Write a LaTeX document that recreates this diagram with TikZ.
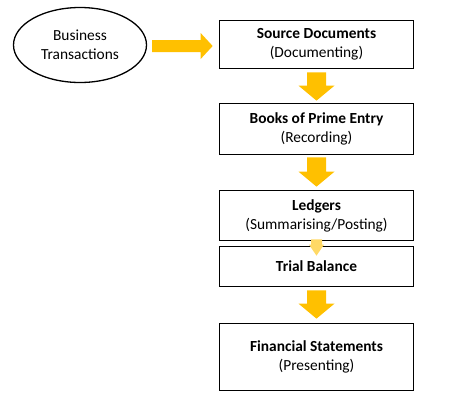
\documentclass[tikz,border=0pt]{standalone}
\usepackage{fontspec}
\setmainfont{Carlito}
\usetikzlibrary{calc,shapes.geometric}
\definecolor{gold}{HTML}{FFC000}
\definecolor{lightgold}{HTML}{FFD966}
\tikzset{
  stagebox/.style={draw=black, line width=1.7pt, minimum width=194pt, align=center,
    font=\fontsize{15.4}{19}\selectfont, inner sep=0pt},
  sourceoval/.style={draw=black, ellipse, line width=1.3pt, minimum width=133pt,
    minimum height=75pt, align=center, font=\fontsize{15.4}{19}\selectfont, inner sep=0pt}
}
% #1 from node, #2 to node, #3 colour, #4 shaft half width, #5 head half width,
% #6 head length, #7 gap below source, #8 gap above target
\newcommand\downflow[8]{%
  \fill[#3] let \p1=($(#1.south)+(0,#7)$), \p2=($(#2.north)+(0,-#8)$) in
    (\x1-#4pt,\y1) -- (\x1+#4pt,\y1) -- (\x1+#4pt,\y2+#6pt) -- (\x1+#5pt,\y2+#6pt)
    -- (\x1,\y2) -- (\x1-#5pt,\y2+#6pt) -- (\x1-#4pt,\y2+#6pt) -- cycle;}
\begin{document}
\begin{tikzpicture}[x=1pt,y=-1pt]
\useasboundingbox (0,0) rectangle (451,400);
\node[sourceoval] (bt) at (80,45) {Business\\Transactions};
\node[stagebox, minimum height=48pt] (sd) at (316.5,44.5) {\textbf{Source Documents}\\(Documenting)};
\node[stagebox, minimum height=51pt] (bp) at (316.5,129) {\textbf{Books of Prime Entry}\\(Recording)};
\node[stagebox, minimum height=50pt] (lg) at (316.5,215.5) {\textbf{Ledgers}\\(Summarising/Posting)};
\node[stagebox, minimum height=40pt] (tb) at (316.5,266.5) {\textbf{Trial Balance}};
\node[stagebox, minimum height=67pt] (fs) at (316.5,357) {\textbf{Financial Statements}\\(Presenting)};
% right arrow
\fill[gold] let \p1=($(bt.east)+(5,1)$), \p2=($(sd.west)+(-6,0)$) in
  (\x1,\y1+6pt) -- (\x2-12pt,\y1+6pt) -- (\x2-12pt,\y1+13pt) -- (\x2,\y1)
  -- (\x2-12pt,\y1-13pt) -- (\x2-12pt,\y1-6pt) -- (\x1,\y1-6pt) -- cycle;
\downflow{sd}{bp}{gold}{9.5}{18}{15}{3}{2}
\downflow{bp}{lg}{gold}{9.5}{18}{15}{2}{3}
\downflow{lg}{tb}{lightgold}{5.5}{7.5}{11}{-2}{-10}
\downflow{tb}{fs}{gold}{9.5}{18}{15}{3}{4}
\end{tikzpicture}
\end{document}
